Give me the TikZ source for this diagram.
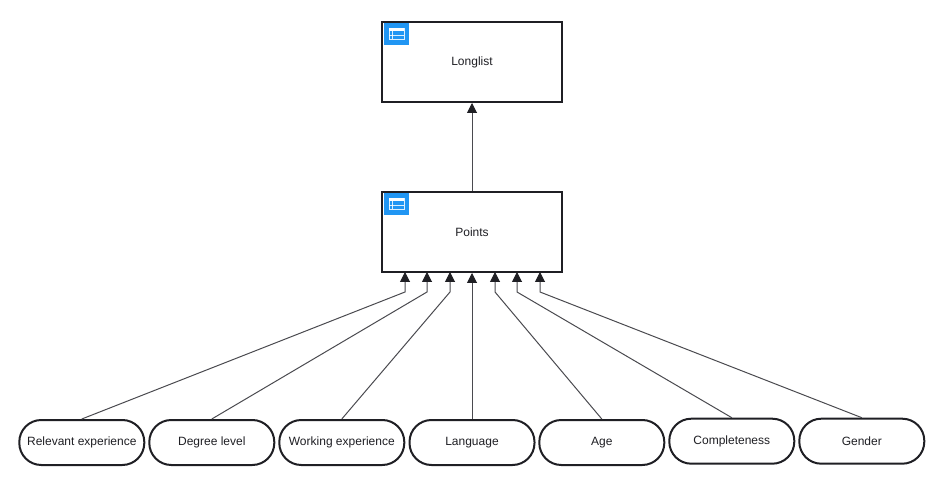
\documentclass[tikz,border=0pt]{standalone}
\usepackage{fontspec}
\setmainfont{Liberation Sans}
\usetikzlibrary{arrows.meta,calc}
\definecolor{iconblue}{HTML}{2196F3}
\definecolor{inkc}{HTML}{1F1F24}
\definecolor{linkc}{HTML}{4A4A4F}
\tikzset{
  tablebox/.style={draw=inkc,line width=2pt,fill=white,minimum width=180pt,minimum height=80pt,inner sep=0pt,font=\fontsize{12}{14}\selectfont,text=inkc},
  pill/.style={draw=inkc,line width=2pt,fill=white,rounded corners=22pt,minimum width=125pt,minimum height=45pt,inner sep=0pt,font=\fontsize{12}{14}\selectfont,text=inkc},
  link/.style={draw=linkc,line width=1pt,-{Triangle[length=10pt,width=10pt,color=inkc]}},
  iconbg/.style={fill=iconblue,draw=none},
  iconline/.style={draw=white,line width=0.6pt,opacity=.85}
}
\newcommand{\tableicon}[1]{%
  \fill[iconbg] ($(#1.north west)+(2.5,2)$) rectangle ($(#1.north west)+(28,24)$);
  \fill[white] ($(#1.north west)+(8,7)$) rectangle ($(#1.north west)+(23,10.5)$);
  \draw[iconline] ($(#1.north west)+(8,7)$) rectangle ($(#1.north west)+(23,18)$);
  \draw[iconline] ($(#1.north west)+(8,14)$) -- ($(#1.north west)+(23,14)$);
  \draw[iconline] ($(#1.north west)+(11.5,10)$) -- ($(#1.north west)+(11.5,18)$);
}
\begin{document}
\begin{tikzpicture}[x=1pt,y=-1pt]
\useasboundingbox (0,0) rectangle (948,486);
\node[tablebox] (longlist) at (472,62) {Longlist};
\node[tablebox] (points) at (472,232) {Points};
\tableicon{longlist}
\tableicon{points}
\node[pill] (rel) at (81.8,442.5) {Relevant experience};
\node[pill] (deg) at (211.8,442.5) {Degree level};
\node[pill] (work) at (341.8,442.5) {Working experience};
\node[pill] (lang) at (472,442.5) {Language};
\node[pill] (age) at (601.8,442.5) {Age};
\node[pill] (comp) at (731.8,441.2) {Completeness};
\node[pill] (gen) at (861.8,441.2) {Gender};
\coordinate (p1) at (405,272);
\coordinate (p2) at (427,272);
\coordinate (p3) at (450,272);
\coordinate (p5) at (495,272);
\coordinate (p6) at (517,272);
\coordinate (p7) at (540,272);
\draw[link] (points.north) -- (longlist.south);
\draw[link] (lang.north) -- (points.south);
\draw[link] (rel.north) -- ([yshift=-20pt]p1) -- (p1);
\draw[link] (deg.north) -- ([yshift=-20pt]p2) -- (p2);
\draw[link] (work.north) -- ([yshift=-20pt]p3) -- (p3);
\draw[link] (age.north) -- ([yshift=-20pt]p5) -- (p5);
\draw[link] (comp.north) -- ([yshift=-20pt]p6) -- (p6);
\draw[link] (gen.north) -- ([yshift=-20pt]p7) -- (p7);
\end{tikzpicture}
\end{document}
